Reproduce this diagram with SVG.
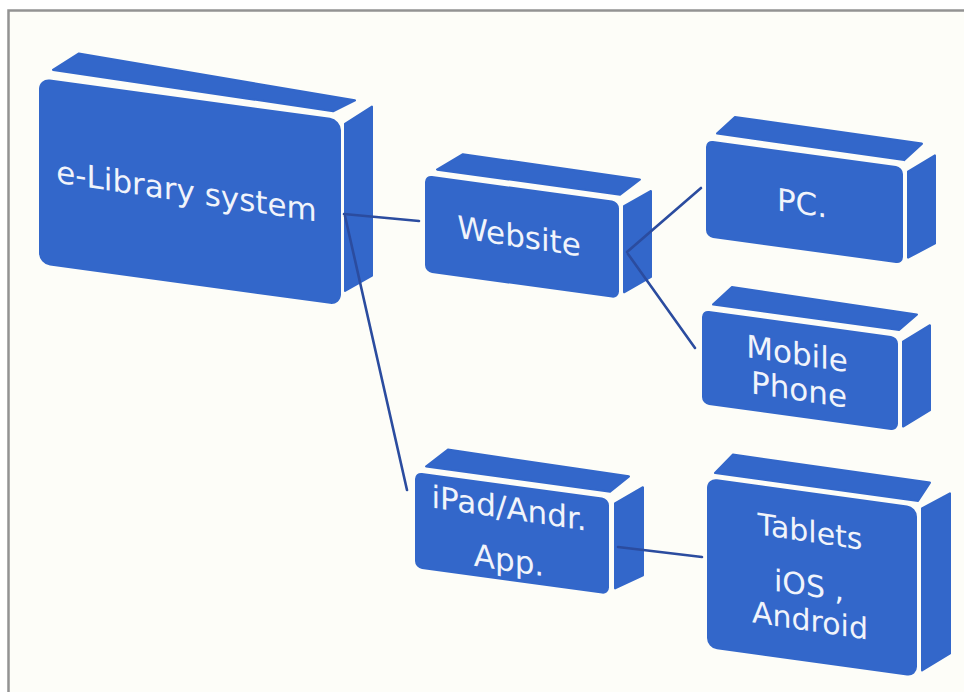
<svg xmlns="http://www.w3.org/2000/svg" width="964" height="692" viewBox="0 0 964 692">
<style>
.f{fill:#3367ca}
.fc{fill:#3367ca;stroke:#3367ca;stroke-width:2;stroke-linejoin:round}
.t{font-family:"DejaVu Sans","Verdana",sans-serif;fill:#f1f4fb;text-anchor:middle}
.c{stroke:#2b4c9f;stroke-width:2.6;fill:none;stroke-linecap:round}
</style>
<rect x="0" y="0" width="964" height="692" fill="#ffffff"/>
<rect x="9" y="10" width="955" height="682" fill="#fdfdf8"/>
<path d="M8.5 692 V10.5 H964" fill="none" stroke="#939393" stroke-width="2.5"/>

<g id="node-elibrary">
  <g transform="translate(39,78) skewY(7.8)">
    <polygon class="fc" points="14,-10 294,-7 316,-21 40,-30"/>
    <polygon class="fc" points="306,4 333,-17 333,152 306,171"/>
    <rect class="f" x="0" y="0" width="302" height="186" rx="11"/>
  </g>
  <text class="t" font-size="31" transform="translate(186.5,202) skewY(8.5)">e-Library system</text>
</g>

<g id="node-website">
  <g transform="translate(425,175) skewY(7.8)">
    <polygon class="fc" points="12,-7 195,-7 215,-25 38,-26"/>
    <polygon class="fc" points="199,4 226,-15 226,71 199,90"/>
    <rect class="f" x="0" y="0" width="194" height="97" rx="7"/>
  </g>
  <text class="t" font-size="31" transform="translate(519,247) skewY(8.5)">Website</text>
</g>

<g id="node-pc">
  <g transform="translate(706,140) skewY(7.8)">
    <polygon class="fc" points="11,-8 198,-7 216,-26 29,-27"/>
    <polygon class="fc" points="202,4 229,-16 229,72 202,90"/>
    <rect class="f" x="0" y="0" width="197" height="97" rx="7"/>
  </g>
  <text class="t" font-size="31" transform="translate(802,214) skewY(8.5)">PC.</text>
</g>

<g id="node-mobile">
  <g transform="translate(702,310) skewY(7.8)">
    <polygon class="fc" points="11,-7 197,-7 215,-25 30,-27"/>
    <polygon class="fc" points="201,4 228,-16 228,69 201,89"/>
    <rect class="f" x="0" y="0" width="196" height="94" rx="7"/>
  </g>
  <text class="t" font-size="31" transform="translate(797,364.5) skewY(8.5)">Mobile</text>
  <text class="t" font-size="31" transform="translate(799,400.5) skewY(8.5)">Phone</text>
</g>

<g id="node-app">
  <g transform="translate(415,472) skewY(7.8)">
    <polygon class="fc" points="11,-7 195,-7 214,-25 33,-27"/>
    <polygon class="fc" points="200,4 228,-16 228,72 200,89"/>
    <rect class="f" x="0" y="0" width="194" height="96" rx="7"/>
  </g>
  <text class="t" font-size="31" transform="translate(509,519) skewY(8.5)">iPad/Andr.</text>
  <text class="t" font-size="31" transform="translate(509,571) skewY(8.5)">App.</text>
</g>

<g id="node-tablets">
  <g transform="translate(707,478) skewY(7.8)">
    <polygon class="fc" points="8,-6 211,-6 223,-26 26,-27"/>
    <polygon class="fc" points="215,1 243,-18 243,142 215,163"/>
    <rect class="f" x="0" y="0" width="210" height="170" rx="10"/>
  </g>
  <text class="t" font-size="30" transform="translate(810,542) skewY(8.5)">Tablets</text>
  <text class="t" font-size="30" transform="translate(809,596) skewY(8.5)">iOS ,</text>
  <text class="t" font-size="30" transform="translate(810,631) skewY(8.5)">Android</text>
</g>

<g id="connectors">
  <line class="c" x1="344" y1="214" x2="419" y2="221"/>
  <line class="c" x1="345" y1="216" x2="407" y2="490"/>
  <line class="c" x1="627" y1="252" x2="701" y2="188"/>
  <line class="c" x1="628" y1="254" x2="695" y2="348"/>
  <line class="c" x1="618" y1="547" x2="702" y2="557"/>
</g>
</svg>
